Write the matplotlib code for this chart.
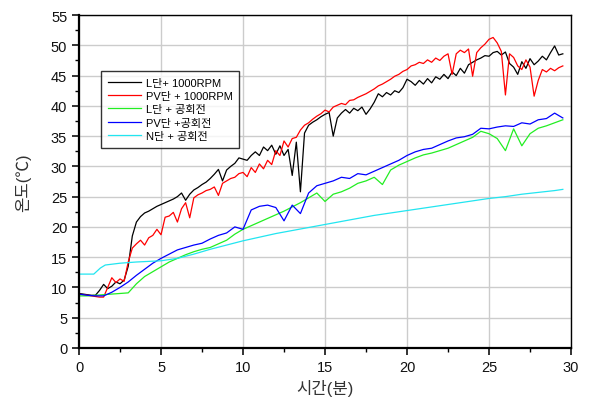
import matplotlib
matplotlib.use("Agg")
import matplotlib.pyplot as plt
import numpy as np
from matplotlib.ticker import MultipleLocator

plt.rcParams['font.family'] = ['Liberation Sans', 'Noto Sans CJK KR', 'DejaVu Sans']

# L단 + 1000RPM (0.25분 간격)
black_vals = [9.0, 8.9, 8.8, 8.7, 8.7, 9.5, 10.5, 9.8, 10.2, 10.9, 10.6, 11.2,
              13.5, 18.5, 20.8, 21.7, 22.3, 22.6, 23.0, 23.4, 23.7, 24.0, 24.3, 24.6,
              25.0, 25.6, 24.4, 25.4, 26.1, 26.5, 27.0, 27.4, 28.0, 28.7, 29.5, 27.6,
              29.4, 30.0, 30.5, 31.4, 31.2, 31.0, 31.8, 32.4, 31.8, 33.2, 32.6, 33.5,
              32.0, 33.4, 31.8, 32.8, 28.5, 34.0, 25.8, 35.5, 36.8, 37.3, 37.7, 38.2,
              38.6, 38.9, 35.0, 38.0, 38.8, 39.4, 38.8, 39.6, 39.2, 39.8, 38.6, 39.5,
              40.6, 42.0, 41.5, 42.2, 41.8, 42.5, 42.2, 43.0, 44.4, 44.0, 43.4, 44.2,
              43.6, 44.5, 43.8, 44.8, 44.4, 45.2, 44.5, 45.6, 45.0, 46.2, 45.4, 46.8,
              47.2, 47.6, 47.9, 48.3, 48.2, 48.8, 49.0, 48.4, 48.9, 47.0, 46.4, 45.2,
              47.3, 46.2, 47.8, 46.8, 47.4, 48.2, 47.6, 48.8, 49.9, 48.4, 48.6]

# PV단 + 1000RPM (0.25분 간격)
red_vals = [8.9, 8.8, 8.7, 8.6, 8.5, 8.4, 8.4, 10.0, 11.6, 10.8, 11.4, 11.0,
            14.2, 16.5, 17.2, 17.8, 17.0, 18.2, 18.6, 19.6, 18.7, 21.6, 21.8, 22.4,
            20.8, 23.0, 24.0, 21.5, 24.8, 25.3, 25.6, 26.0, 26.2, 26.6, 25.2, 27.2,
            27.6, 28.0, 28.2, 28.8, 29.0, 28.3, 29.8, 29.0, 30.4, 29.6, 31.0, 30.3,
            32.6, 31.8, 34.2, 33.2, 34.6, 34.8, 36.0, 36.8, 37.2, 37.8, 38.3, 38.7,
            39.3, 39.0, 39.8, 40.1, 40.4, 40.2, 40.9, 41.0, 41.4, 41.7, 42.0, 42.4,
            42.8, 43.3, 43.6, 44.0, 44.4, 44.9, 45.2, 45.7, 46.0, 46.6, 46.8, 47.2,
            47.0, 47.6, 47.2, 47.9, 47.5, 48.2, 48.6, 45.2, 48.6, 49.2, 48.8, 49.4,
            44.9, 48.8, 49.6, 50.2, 51.0, 51.3, 50.4, 49.0, 41.8, 48.6, 48.0, 46.6,
            46.0, 47.6, 46.4, 41.6, 44.2, 46.0, 45.6, 46.2, 45.8, 46.3, 46.6]

# L단 + 공회전 (0.5분 간격)
green_vals = [8.6, 8.6, 8.7, 8.8, 8.9, 9.0, 9.1, 10.6, 11.8, 12.6, 13.4, 14.2,
              14.8, 15.4, 15.9, 16.3, 16.6, 17.2, 17.8, 18.8, 19.6, 20.2, 20.8, 21.4,
              22.0, 22.6, 23.3, 24.0, 24.8, 25.6, 24.2, 25.4, 25.8, 26.4, 27.2, 27.6,
              28.2, 27.0, 29.4, 30.2, 30.8, 31.4, 31.9, 32.2, 32.6, 33.0, 33.6, 34.2,
              34.8, 35.8, 35.4, 34.6, 32.6, 36.2, 33.4, 35.4, 36.3, 36.7, 37.2, 37.7]

# PV단 + 공회전 (0.5분 간격)
blue_vals = [8.9, 8.7, 8.6, 8.6, 9.2, 10.0, 10.9, 12.0, 13.0, 14.0, 14.8, 15.5,
             16.2, 16.6, 17.0, 17.3, 18.0, 18.6, 19.0, 20.0, 19.6, 22.8, 23.4, 23.6,
             23.2, 21.0, 23.6, 22.2, 25.6, 26.8, 27.2, 27.6, 28.2, 28.0, 28.8, 28.6,
             29.2, 29.8, 30.4, 31.0, 31.8, 32.4, 32.8, 33.0, 33.6, 34.2, 34.7, 34.9,
             35.3, 36.3, 36.2, 36.5, 36.7, 36.6, 37.2, 37.0, 37.7, 37.9, 38.8, 38.0]

# N단 + 공회전
cyan_t = [0, 0.9, 1.3, 1.6, 2.5, 3.5, 5, 6, 7, 8, 9, 10, 11, 12, 13, 14, 15, 16,
          17, 18, 19, 20, 21, 22, 23, 24, 25, 26, 27, 28, 29, 29.5]
cyan_vals = [12.2, 12.2, 13.2, 13.7, 14.0, 14.2, 14.4, 14.8, 15.5, 16.3, 17.0, 17.7,
             18.3, 18.9, 19.4, 19.9, 20.4, 20.9, 21.4, 21.9, 22.3, 22.7, 23.1, 23.5,
             23.9, 24.3, 24.7, 25.0, 25.4, 25.7, 26.0, 26.2]

labels = ['L단+ 1000RPM', 'PV단 + 1000RPM', 'L단 + 공회전', 'PV단 +공회전', 'N단 + 공회전']

fig = plt.figure(figsize=(5.91, 4.02), dpi=100)
ax = fig.add_axes([0.1337, 0.132, 0.8325, 0.828])

ax.plot(np.arange(len(black_vals)) * 0.25, black_vals, color='black', lw=0.9, label=labels[0])
ax.plot(np.arange(len(red_vals)) * 0.25, red_vals, color='red', lw=0.9, label=labels[1])
ax.plot(np.arange(len(green_vals)) * 0.5, green_vals, color='#22ee22', lw=0.9, label=labels[2])
ax.plot(np.arange(len(blue_vals)) * 0.5, blue_vals, color='blue', lw=0.9, label=labels[3])
ax.plot(cyan_t, cyan_vals, color='#22e5f0', lw=0.9, label=labels[4])

ax.set_xlim(0, 30)
ax.set_ylim(0, 55)
ax.xaxis.set_major_locator(MultipleLocator(5))
ax.xaxis.set_minor_locator(MultipleLocator(2.5))
ax.yaxis.set_major_locator(MultipleLocator(5))
ax.yaxis.set_minor_locator(MultipleLocator(2.5))
ax.grid(True, which='major', color='#cccccc', lw=1.0)
ax.set_axisbelow(True)

ax.tick_params(which='major', direction='out', length=5, width=1.2, labelsize=10.5, colors='#111111')
ax.tick_params(which='minor', direction='out', length=3, width=1.0)
for side in ['left', 'bottom']:
    ax.spines[side].set_linewidth(1.6)
for side in ['top', 'right']:
    ax.spines[side].set_linewidth(1.0)

ax.set_xlabel('시간(분)', fontsize=12, color='#333333', labelpad=4)
ax.set_ylabel('온도(℃)', fontsize=12, color='#333333', labelpad=14)

leg = ax.legend(loc='upper left', bbox_to_anchor=(0.045, 0.832), borderaxespad=0,
                fontsize=8, frameon=True, fancybox=False, handlelength=3.0,
                borderpad=0.6, labelspacing=0.3, handletextpad=0.4)
leg.get_frame().set_edgecolor('black')
leg.get_frame().set_linewidth(1.0)

fig.savefig('out.png', dpi=100)
